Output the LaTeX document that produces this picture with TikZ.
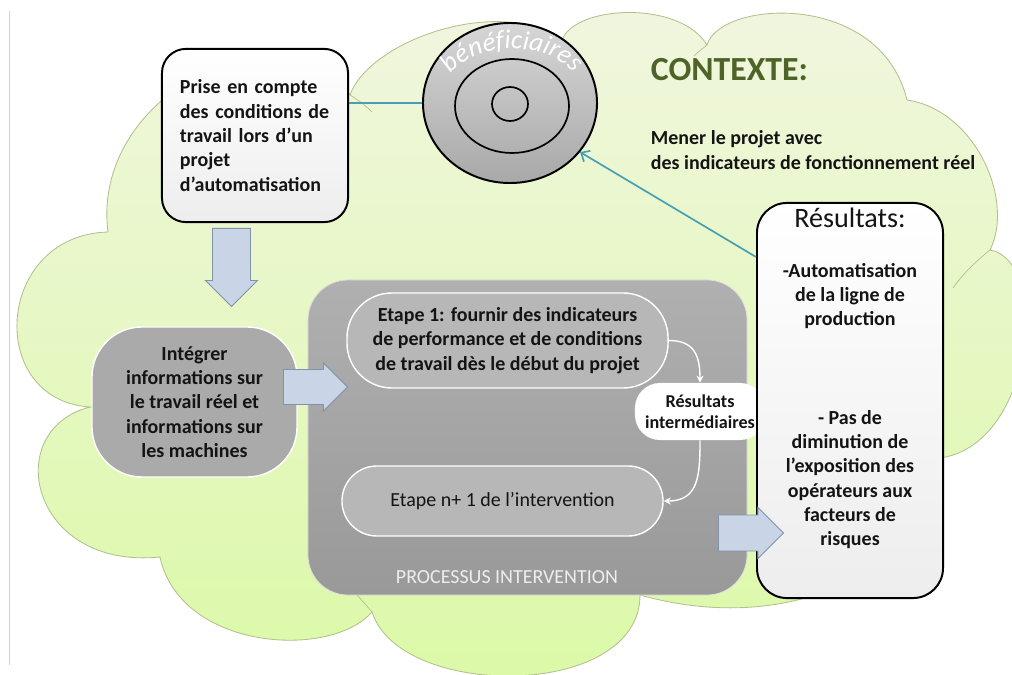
\documentclass[tikz,border=0pt]{standalone}
\usepackage{fontspec}
\setmainfont{Carlito}
\usetikzlibrary{shapes.geometric,shapes.arrows,arrows.meta,decorations.text,calc}
\definecolor{cloudtop}{RGB}{241,246,224}
\definecolor{cloudbot}{RGB}{219,249,166}
\definecolor{cloudline}{RGB}{178,192,140}
\definecolor{procgray}{RGB}{158,158,158}
\definecolor{stepgray}{RGB}{183,183,183}
\definecolor{boxgray}{RGB}{170,170,170}
\definecolor{arrowfill}{RGB}{201,213,230}
\definecolor{arrowline}{RGB}{130,146,170}
\definecolor{linkteal}{RGB}{70,160,180}
\definecolor{ctxgreen}{RGB}{79,98,40}
\definecolor{txt}{RGB}{20,20,20}
\begin{document}
\begin{tikzpicture}[x=0.025cm,y=-0.025cm,
  bodytext/.style={font=\fontsize{14.2}{17.3}\selectfont\bfseries, text=txt},
  whitebox/.style={draw=black, line width=1.4pt, top color=white, bottom color=black!7},
  graybox/.style={draw=white, line width=1pt, fill=#1},
  blockarrow/.style={single arrow, draw=arrowline, fill=arrowfill, line width=0.6pt,
    inner xsep=0pt, anchor=tail},
  cloudtail/.style={draw=cloudline, line width=0.5pt}]
\useasboundingbox (0,0) rectangle (1012,675);
\draw[gray!35] (9,11) -- (9,665);
% cloud
\path[draw=cloudline, line width=0.6pt, top color=cloudtop, bottom color=cloudbot]
  (108,232) .. controls (90,90) and (290,0) .. (350,95)
  .. controls (370,40) and (500,-5) .. (562,40)
  .. controls (575,5) and (680,0) .. (707,45)
  .. controls (720,0) and (880,-10) .. (907,100)
  .. controls (975,110) and (1015,200) .. (990,250)
  .. controls (1050,260) and (1035,445) .. (940,458)
  .. controls (935,560) and (800,640) .. (640,595)
  .. controls (640,700) and (400,700) .. (372,612)
  .. controls (330,660) and (180,650) .. (160,557)
  .. controls (30,570) and (0,430) .. (90,407)
  .. controls (-15,400) and (-5,235) .. (108,232) -- cycle;
\path[cloudtail] (350,95) .. controls (358,100) and (365,105) .. (372,112);
\path[cloudtail] (707,45) .. controls (702,49) and (698,52) .. (694,56);
\path[cloudtail] (990,250) .. controls (975,262) and (962,275) .. (953,288);
\path[cloudtail] (372,612) .. controls (362,600) and (352,590) .. (343,577);
\path[cloudtail] (90,407) .. controls (94,408) and (98,409) .. (102,410);
% target
\node[ellipse, draw=black, line width=1.4pt, minimum width=4.35cm, minimum height=4cm,
  top color=black!16, bottom color=black!34] (target) at (510,103) {};
\draw[line width=1.2pt] (512,106) ellipse [x radius=57, y radius=47];
\draw[line width=1.2pt] (510,104) ellipse [x radius=18, y radius=17];
\path[decorate, decoration={text along path, text align=center,
  text={|\fontsize{19}{19}\selectfont\itshape\color{white}|bénéficiaires}}]
  (444,88) .. controls (460,36) and (562,36) .. (582,86);
\node[font=\fontsize{24}{28}\selectfont\bfseries, text=ctxgreen, anchor=west] (ctx) at (646,70) {CONTEXTE:};
\node[bodytext, align=left, anchor=west] (mener) at (646,150)
  {Mener le projet avec\\des indicateurs de fonctionnement réel};
% boxes
\node[whitebox, rounded corners=0.6cm, minimum width=4.65cm, minimum height=4.33cm,
  text width=3.75cm, align=left, bodytext] (prise) at (255,135.5)
  {Prise en compte\\des conditions de\\travail lors d’un\\projet\\d’automatisation};
\draw[linkteal, line width=1.4pt] (prise.east |- target.west) -- (target.west);
\node[graybox=boxgray, rounded corners=1.25cm, minimum width=5.125cm, minimum height=3.75cm,
  align=center, bodytext] (integ) at (194.5,402)
  {Intégrer\\informations sur\\le travail réel et\\informations sur\\les machines};
\node[draw=white!75!gray, line width=0.6pt, rounded corners=1cm, top color=black!31, bottom color=black!40,
  minimum width=10.975cm, minimum height=7.875cm] (proc) at (527.5,437.5) {};
\node[font=\fontsize{14.2}{17}\selectfont, text=black!7] (proclabel) at (507,577) {PROCESSUS INTERVENTION};
\node[graybox=stepgray, rounded corners=1.125cm, minimum width=8.025cm, minimum height=2.375cm,
  align=center, bodytext] (etape1) at (507.5,340.5)
  {Etape 1: fournir des indicateurs\\de performance et de conditions\\de travail dès le début du projet};
\node[graybox=stepgray, rounded corners=0.875cm, minimum width=8.025cm, minimum height=1.75cm,
  font=\fontsize{14.2}{17}\selectfont, text=txt] (etapen) at (502.5,501) {Etape n+ 1 de l’intervention};
\node[fill=white, rounded corners=0.625cm, minimum width=3.25cm, minimum height=1.425cm,
  align=center, font=\fontsize{12.9}{15}\selectfont\bfseries, text=txt] (inter) at (700,411.5)
  {Résultats\\intermédiaires};
\draw[white, line width=1pt, -{Stealth[length=5pt,width=5pt]}]
  (etape1.east) .. controls +(25,0) and +(0,-28) .. (inter.north);
\draw[white, line width=1pt, -{Stealth[length=5pt,width=5pt]}]
  (inter.south) .. controls +(0,35) and +(35,0) .. (etapen.east);
\node[whitebox, rounded corners=0.75cm, minimum width=4.65cm, minimum height=9.875cm] (result) at (850,400.5) {};
\node[font=\fontsize{20}{24}\selectfont, text=txt] (restitle) at (850,218) {Résultats:};
\node[bodytext, align=center] (res1) at (850,296) {-Automatisation\\de la ligne de\\production};
\node[bodytext, align=center] (res2) at (850,479.5)
  {- Pas de\\diminution de\\l’exposition des\\opérateurs aux\\facteurs de\\risques};
\draw[linkteal, line width=1.2pt, -{Straight Barb[length=5pt,width=9pt]}]
  ($(result.north west)+(0,55)$) -- (target.-35);
% block arrows
\node[blockarrow, minimum height=1.95cm, inner ysep=0.4625cm, single arrow head extend=0.175cm,
  rotate=-90] (darrow) at (231.5,228) {};
\node[blockarrow, minimum height=1.6cm, inner ysep=0.425cm, single arrow head extend=0.1625cm]
  (rarrow) at (283,387) {};
\node[blockarrow, minimum height=1.625cm, inner ysep=0.4375cm, single arrow head extend=0.19cm]
  (oarrow) at (718,533) {};
\end{tikzpicture}
\end{document}
